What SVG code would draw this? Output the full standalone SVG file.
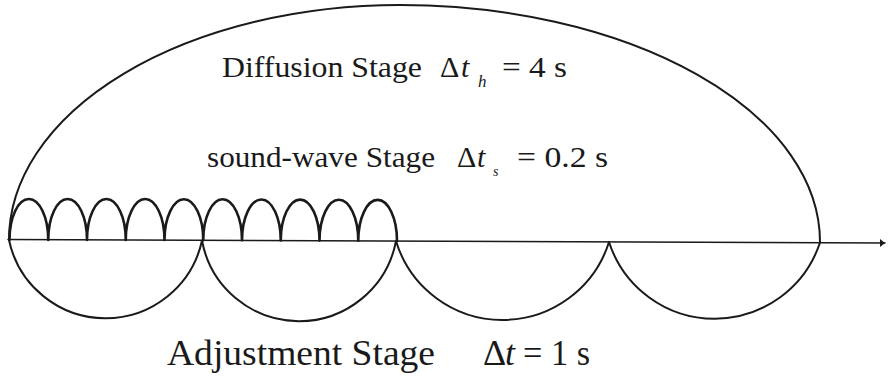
<svg xmlns="http://www.w3.org/2000/svg" width="888" height="379" viewBox="0 0 888 379">
<style>
.ln{fill:none;stroke:#1a1a1a;stroke-linecap:round;stroke-linejoin:round}
.t{font-family:"Liberation Serif","Times New Roman",serif;fill:#1a1a1a}
.it{font-style:italic}
</style>
<defs>
<marker id="ah" markerWidth="6" markerHeight="10" refX="5" refY="5" orient="auto" markerUnits="userSpaceOnUse">
<path d="M0,1 L5,5 L0,9 Z" fill="#1a1a1a"/>
</marker>
</defs>
<rect width="888" height="379" fill="#fff"/>
<g id="connectors">
<path class="ln" d="M8,239.5 L885,243" stroke-width="1.6" marker-end="url(#ah)"/>
</g>
<g id="diffusion-stage">
<path class="ln" stroke-width="2" d="M9,240 A391,235 0 0 1 400,5 A420,237 0 0 1 820,242.5"/>
</g>
<g id="sound-wave-stage">
<path class="ln" stroke-width="2.6" d="M9.5,240 A19.375,41 0 0 1 48.25,240 A19.375,41 0 0 1 87,240 A19.375,41 0 0 1 125.75,240 A19.375,41 0 0 1 164.5,240 A19.375,41 0 0 1 203.25,240.3 A19.375,41 0 0 1 242,240.3 A19.375,41 0 0 1 280.75,240.5 A19.375,41 0 0 1 319.5,240.6 A19.375,41 0 0 1 358.25,240.8 A19.375,41 0 0 1 397,241"/>
</g>
<g id="adjustment-stage">
<path class="ln" stroke-width="2" d="M9,240 A98.7,98.7 0 0 0 202,240.5 A98.7,98.7 0 0 0 396,241 A111.5,111.5 0 0 0 609,242 A111,111 0 0 0 820,242.5"/>
</g>
<g id="labels">
<text class="t" x="222" y="77" font-size="30" textLength="200" lengthAdjust="spacingAndGlyphs">Diffusion Stage</text>
<text class="t" x="440" y="77" font-size="30">Δ</text>
<text class="t it" x="461" y="77" font-size="30">t</text>
<text class="t it" x="478" y="87" font-size="17">h</text>
<text class="t" x="502" y="77" font-size="30" textLength="65" lengthAdjust="spacingAndGlyphs">= 4 s</text>

<text class="t" x="207" y="167" font-size="30" textLength="228" lengthAdjust="spacingAndGlyphs">sound-wave Stage</text>
<text class="t" x="457" y="167" font-size="30">Δ</text>
<text class="t it" x="477" y="167" font-size="30">t</text>
<text class="t it" x="493" y="176" font-size="14">s</text>
<text class="t" x="517" y="167" font-size="30" textLength="91" lengthAdjust="spacingAndGlyphs">= 0.2 s</text>

<text class="t" x="167" y="365" font-size="36" textLength="268" lengthAdjust="spacingAndGlyphs">Adjustment Stage</text>
<text class="t" x="483" y="365" font-size="36">Δ</text>
<text class="t it" x="505" y="365" font-size="36">t</text>
<text class="t" x="523" y="365" font-size="36" textLength="67" lengthAdjust="spacingAndGlyphs">= 1 s</text>
</g>
</svg>
